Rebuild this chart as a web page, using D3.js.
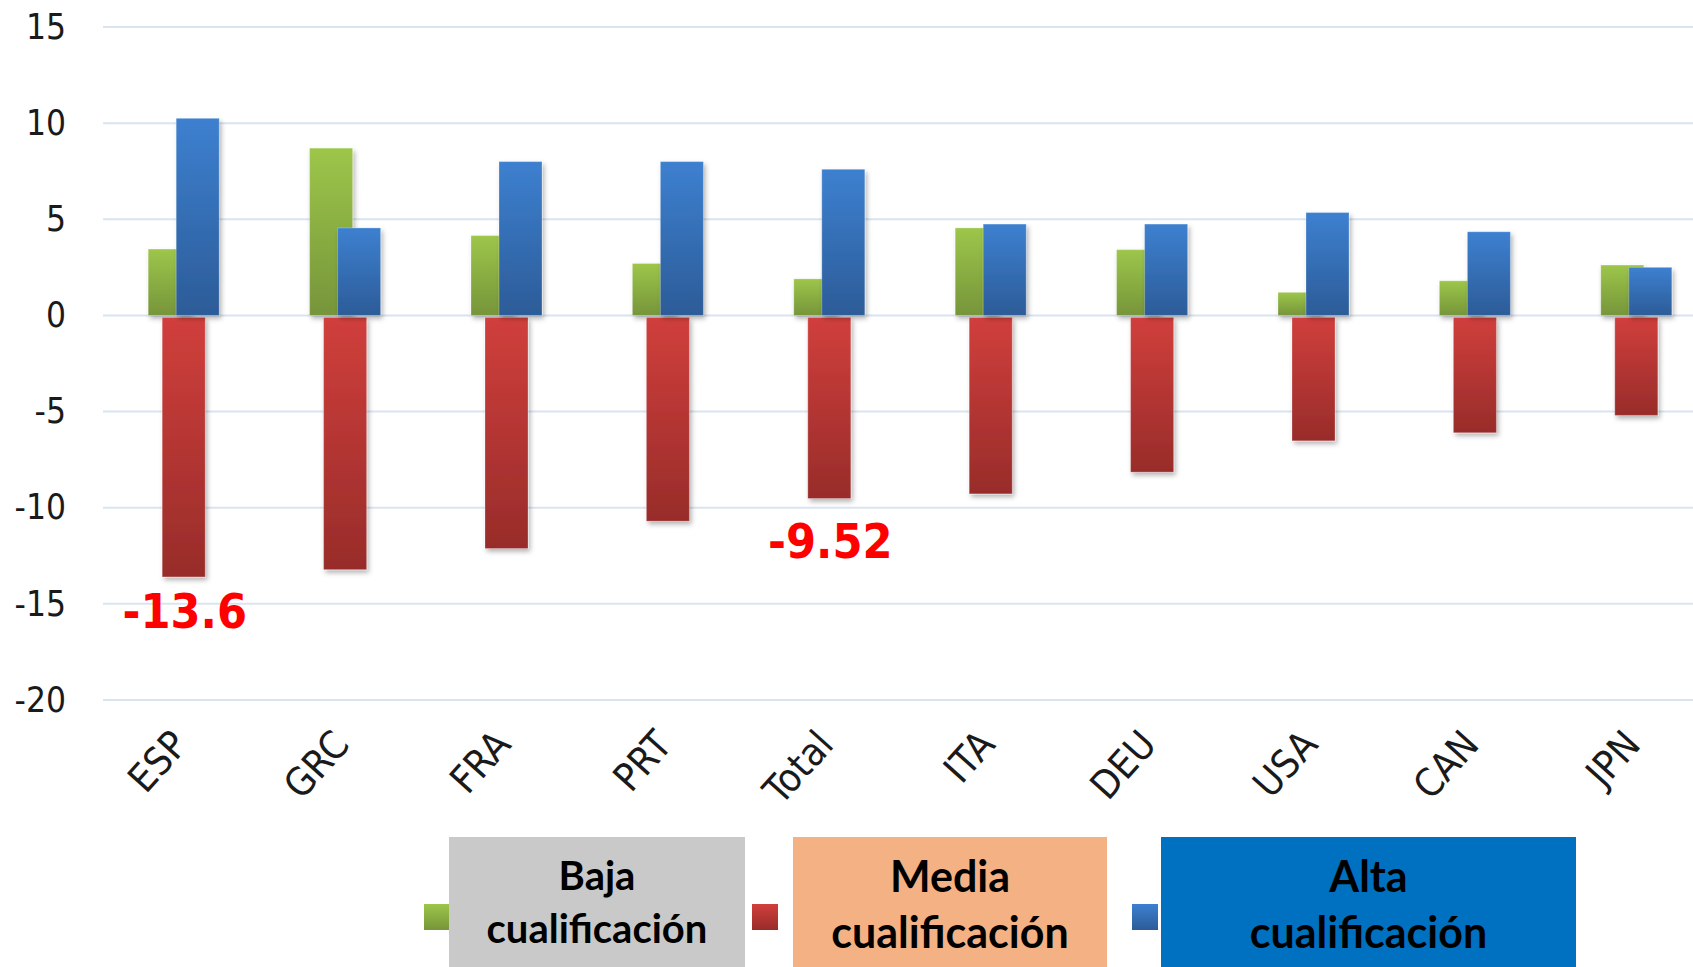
<!DOCTYPE html>
<html>
<head>
<meta charset="utf-8">
<script src="https://cdn.jsdelivr.net/npm/d3@7"></script>
<style>
  body { margin: 0; background: #fff; }
  svg { display: block; }
</style>
</head>
<body>
<div id="chart"></div>
<script>
var categories = ["ESP", "GRC", "FRA", "PRT", "Total", "ITA", "DEU", "USA", "CAN", "JPN"];
var baja  = [3.45, 8.7, 4.15, 2.7, 1.9, 4.55, 3.42, 1.2, 1.8, 2.62];
var media = [-13.6, -13.22, -12.12, -10.7, -9.52, -9.28, -8.15, -6.52, -6.1, -5.2];
var alta  = [10.25, 4.55, 8.0, 8.0, 7.6, 4.75, 4.75, 5.35, 4.35, 2.5];
var yTicks = [15, 10, 5, 0, -5, -10, -15, -20];
var callouts = [{cat: "ESP", value: -13.6, label: "-13.6"}, {cat: "Total", value: -9.52, label: "-9.52"}];

var svgWidth = 1693, svgHeight = 967;

var svg = d3.select("#chart").append("svg")
    .attr("width", svgWidth)
    .attr("height", svgHeight);

var x = d3.scaleBand().domain(categories).range([103, 1717]).padding(0),
    y = d3.scaleLinear().domain([-20, 15]).range([700, 27]);

var defs = svg.append("defs");

function grad(id, top, bottom) {
    var g = defs.append("linearGradient").attr("id", id)
        .attr("x1", 0).attr("y1", 0).attr("x2", 0).attr("y2", 1);
    g.append("stop").attr("offset", "0%").attr("stop-color", top);
    g.append("stop").attr("offset", "100%").attr("stop-color", bottom);
}
grad("gGreen", "#9dc64a", "#76953a");
grad("gRed", "#d03f3c", "#982c2a");
grad("gBlue", "#3d80d0", "#2c5c98");

var shadow = defs.append("filter").attr("id", "shadow")
    .attr("x", "-20%").attr("y", "-5%").attr("width", "150%").attr("height", "120%");
shadow.append("feDropShadow").attr("dx", 2).attr("dy", 3).attr("stdDeviation", 2.5)
    .attr("flood-color", "#000").attr("flood-opacity", 0.3);

// gridlines
svg.append("g").selectAll("line")
    .data(yTicks)
    .enter().append("line")
    .attr("x1", 103).attr("x2", svgWidth)
    .attr("y1", function(d) { return y(d); })
    .attr("y2", function(d) { return y(d); })
    .attr("stroke", "#dae4f1")
    .attr("stroke-width", 2);

// y axis labels (plain hyphen like the original)
var yAxis = d3.axisLeft(y).tickValues(yTicks).tickSize(0).tickPadding(0)
    .tickFormat(function(d) { return String(d); });
var yg = svg.append("g").attr("transform", "translate(66,0)").call(yAxis);
yg.select(".domain").remove();
yg.selectAll("text")
    .attr("font-family", "'DejaVu Sans Condensed', 'DejaVu Sans', sans-serif")
    .attr("font-size", 35)
    .attr("fill", "#1a1a1a");

// bars
var barW = 43, shift = 14;
var series = [
    {values: baja,  fill: "url(#gGreen)", idx: 0},
    {values: media, fill: "url(#gRed)",   idx: 1},
    {values: alta,  fill: "url(#gBlue)",  idx: 2}
];

series.forEach(function(s) {
    svg.append("g").attr("filter", "url(#shadow)")
        .selectAll("rect")
        .data(categories)
        .enter().append("rect")
        .attr("x", function(d) { return x(d) + x.bandwidth() / 2 - 35.5 + shift * s.idx; })
        .attr("width", barW)
        .attr("y", function(d, i) { return s.values[i] >= 0 ? y(s.values[i]) : y(0) + 2; })
        .attr("height", function(d, i) { return Math.abs(y(s.values[i]) - y(0)) - (s.values[i] < 0 ? 2 : 0); })
        .attr("fill", s.fill)
        .attr("stroke", "rgba(255,255,255,0.25)")
        .attr("stroke-width", 1);
});

// x axis labels
var xg = svg.append("g");
xg.selectAll("text")
    .data(categories)
    .enter().append("text")
    .attr("transform", function(d) {
        return "translate(" + (x(d) + x.bandwidth() / 2 + 6) + ",746) rotate(-48)";
    })
    .attr("text-anchor", "end")
    .attr("font-family", "'DejaVu Sans Condensed', 'DejaVu Sans', sans-serif")
    .attr("font-size", 39)
    .attr("fill", "#1a1a1a")
    .text(function(d) { return d; });

// red call-outs
svg.append("g").selectAll("text")
    .data(callouts)
    .enter().append("text")
    .attr("x", function(d) { return x(d.cat) + x.bandwidth() / 2 + 1; })
    .attr("y", function(d) { return y(d.value) + (d.cat == "ESP" ? 51 : 60); })
    .attr("text-anchor", "middle")
    .attr("font-family", "'DejaVu Sans Condensed', 'DejaVu Sans', sans-serif")
    .attr("font-weight", "bold")
    .attr("font-size", 48)
    .attr("fill", "#ff0000")
    .text(function(d) { return d.label; });

// legend
var legend = [
    {lines: ["Baja", "cualificación"],  marker: "url(#gGreen)", mx: 424, bx: 449, bw: 296, box: "#c9c9c9", fs: 40, y0: 890},
    {lines: ["Media", "cualificación"], marker: "url(#gRed)",   mx: 752, bx: 793, bw: 314, box: "#f4b183", fs: 43, y0: 892},
    {lines: ["Alta", "cualificación"],  marker: "url(#gBlue)",  mx: 1132, bx: 1161, bw: 415, box: "#0070c0", fs: 43, y0: 892}
];

var lg = svg.append("g").selectAll("g").data(legend).enter().append("g");
lg.append("rect")
    .attr("x", function(d) { return d.mx; }).attr("y", 904)
    .attr("width", 26).attr("height", 26)
    .attr("fill", function(d) { return d.marker; });
lg.append("rect")
    .attr("x", function(d) { return d.bx; }).attr("y", 837)
    .attr("width", function(d) { return d.bw; }).attr("height", 140)
    .attr("fill", function(d) { return d.box; });
lg.each(function(d) {
    var t = d3.select(this);
    d.lines.forEach(function(line, k) {
        t.append("text")
            .attr("x", d.bx + d.bw / 2)
            .attr("y", d.y0 + k * (d.fs > 41 ? 56 : 53))
            .attr("text-anchor", "middle")
            .attr("font-family", "Lato, 'Open Sans', sans-serif")
            .attr("font-weight", "bold")
            .attr("font-size", d.fs)
            .attr("fill", "#000")
            .text(line);
    });
});
</script>
</body>
</html>
